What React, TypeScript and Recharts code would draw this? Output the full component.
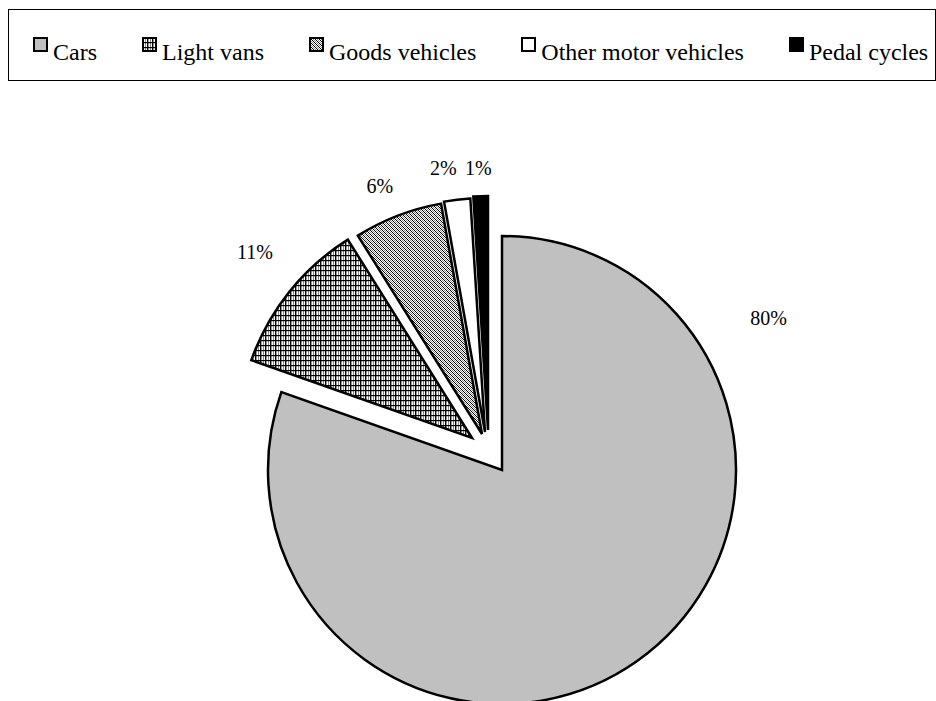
import React from "react";
import { PieChart, Pie, Cell, Sector } from "recharts";

const categories = ["Cars", "Light vans", "Goods vehicles", "Other motor vehicles", "Pedal cycles"];
const shares = [80.4, 10.7, 6.1, 1.8, 1.0];

const data = categories.map((name, i) => ({ name, value: shares[i] }));

// look of each slice
const fills: Record<string, string> = {
  Cars: "#c0c0c0",
  "Light vans": "url(#gridFill)",
  "Goods vehicles": "url(#dotFill)",
  "Other motor vehicles": "#ffffff",
  "Pedal cycles": "#000000",
};

// pulled-out slices (px)
const explode: Record<string, [number, number]> = {
  Cars: [0, 0],
  "Light vans": [-30, -32],
  "Goods vehicles": [-20, -36],
  "Other motor vehicles": [-17, -38],
  "Pedal cycles": [-14, -40],
};

// label spot: clockwise degrees from 12 o'clock, distance from slice tip
const labelSpot: Record<string, [number, number]> = {
  Cars: [60.3, 307],
  "Light vans": [310.6, 286],
  "Goods vehicles": [337.6, 268],
  "Other motor vehicles": [351, 267],
  "Pedal cycles": [357.9, 262],
};

const FONT = "'Liberation Serif', 'Times New Roman', serif";

const PatternDefs = ({ id }: { id: string }) => (
  <defs>
    <pattern id={`gridFill${id}`} width="5" height="5" patternUnits="userSpaceOnUse">
      <rect width="5" height="5" fill="#fff" />
      <rect x="3" width="1" height="5" fill="#888" />
      <rect width="1.4" height="5" fill="#000" />
      <rect width="5" height="1.2" fill="#000" />
    </pattern>
    <pattern id={`dotFill${id}`} width="4" height="4" patternUnits="userSpaceOnUse">
      <rect width="4" height="4" fill="#fff" />
      <rect x="0" y="0" width="1" height="1" fill="#000" />
      <rect x="1" y="1" width="1" height="1" fill="#000" />
      <rect x="2" y="2" width="1" height="1" fill="#000" />
      <rect x="3" y="3" width="1" height="1" fill="#000" />
      <rect x="2" y="0" width="1" height="1" fill="#888" />
      <rect x="3" y="1" width="1" height="1" fill="#888" />
      <rect x="0" y="2" width="1" height="1" fill="#888" />
      <rect x="1" y="3" width="1" height="1" fill="#888" />
    </pattern>
  </defs>
);

const ExplodedSector = (props: any) => {
  const [dx, dy] = explode[props.name] ?? [0, 0];
  return <Sector {...props} cx={props.cx + dx} cy={props.cy + dy} />;
};

const renderLabel = (props: any) => {
  const { cx, cy, name, percent } = props;
  const [dx, dy] = explode[name] ?? [0, 0];
  const [deg, dist] = labelSpot[name];
  const rad = (deg * Math.PI) / 180;
  const x = cx + dx + dist * Math.sin(rad);
  const y = cy + dy - dist * Math.cos(rad);
  return (
    <text
      x={x}
      y={y}
      textAnchor="middle"
      dominantBaseline="central"
      fontFamily={FONT}
      fontSize={20}
      fill="#000"
    >
      {`${Math.round(percent * 100)}%`}
    </text>
  );
};

function LegendBox() {
  return (
    <div
      style={{
        position: "absolute",
        left: 8,
        top: 9,
        width: 928,
        height: 72,
        boxSizing: "border-box",
        border: "1px solid #000",
        display: "flex",
        alignItems: "flex-start",
        paddingLeft: 24,
        paddingTop: 27,
        gap: 45,
        fontFamily: FONT,
        fontSize: 24,
        background: "#fff",
      }}
    >
      {categories.map((name) => {
        const key = "lg" + name.replace(/ /g, "");
        return (
          <div key={name} style={{ display: "flex", alignItems: "flex-start" }}>
            <svg width={15} height={15} style={{ display: "block" }}>
              <PatternDefs id={key} />
              <rect
                x={1}
                y={1}
                width={13}
                height={13}
                fill={fills[name].replace(")", key + ")")}
                stroke="#000"
                strokeWidth={2}
              />
            </svg>
            <span style={{ marginLeft: 5, marginTop: 3, lineHeight: "24px", whiteSpace: "nowrap" }}>{name}</span>
          </div>
        );
      })}
    </div>
  );
}

export default function App() {
  return (
    <div
      style={{
        position: "fixed",
        left: 0,
        top: 0,
        width: 936,
        height: 701,
        overflow: "hidden",
        background: "#fff",
      }}
    >
      <PieChart width={936} height={701} margin={{ top: 0, right: 0, bottom: 0, left: 0 }}>
        <PatternDefs id="" />
        <Pie
          data={data}
          dataKey="value"
          nameKey="name"
          cx={502}
          cy={470}
          outerRadius={234}
          startAngle={90}
          endAngle={-270}
          stroke="#000"
          strokeWidth={2.5}
          label={renderLabel}
          labelLine={false}
          shape={ExplodedSector}
          activeShape={ExplodedSector}
          inactiveShape={ExplodedSector}
          isAnimationActive={false}
        >
          {data.map((d) => (
            <Cell key={d.name} fill={fills[d.name]} />
          ))}
        </Pie>
      </PieChart>
      <LegendBox />
    </div>
  );
}
